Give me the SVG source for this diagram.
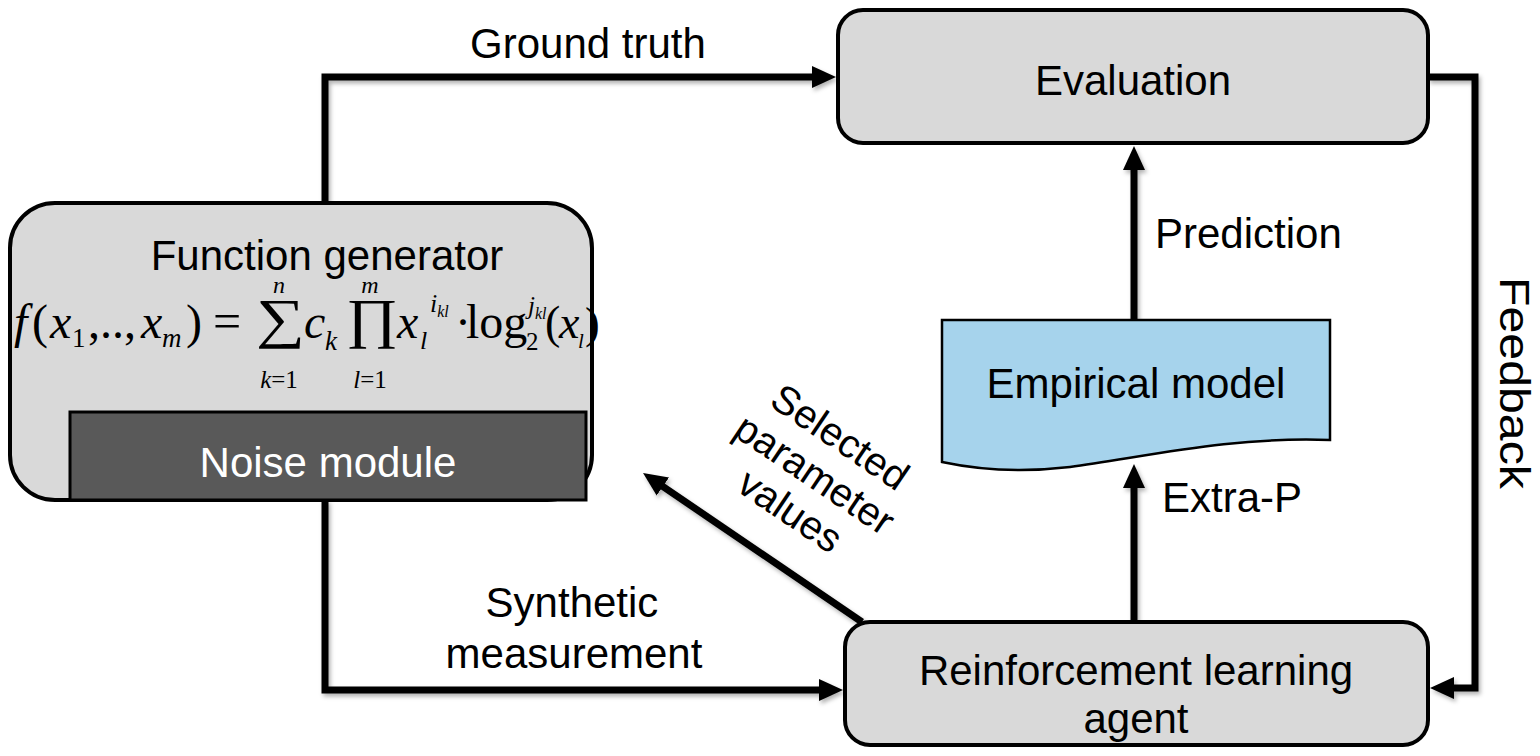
<svg xmlns="http://www.w3.org/2000/svg" width="1540" height="756" viewBox="0 0 1540 756">
  <defs>
    <style>
      .box { fill: #d9d9d9; stroke: #000; stroke-width: 4; }
      .lbl { font-family: "Liberation Sans", Arial, sans-serif; font-size: 42px; fill: #000; }
      .mid { text-anchor: middle; }
      .conn { fill: none; stroke: #000; stroke-width: 7; stroke-linejoin: miter; }
      .m { font-family: "Liberation Serif", "Times New Roman", serif; fill: #000; }
      .it { font-style: italic; }
    </style>
    <marker id="arr" markerUnits="userSpaceOnUse" markerWidth="26" markerHeight="24" refX="14" refY="12" orient="auto" viewBox="0 0 26 24">
      <path d="M0,1 L24,12 L0,23 z" fill="#000"/>
    </marker>
    <filter id="sh" x="-10%" y="-10%" width="120%" height="120%">
      <feDropShadow dx="2" dy="3" stdDeviation="2" flood-color="#000" flood-opacity="0.3"/>
    </filter>
  </defs>
  <rect width="1540" height="756" fill="#fff"/>

  <g id="connectors" filter="url(#sh)">
    <path class="conn" d="M325,203 V77 H826" marker-end="url(#arr)"/>
    <path class="conn" d="M325,500 V690 H833" marker-end="url(#arr)"/>
    <path class="conn" d="M1428,77 H1475 V688 H1440" marker-end="url(#arr)"/>
    <path class="conn" d="M1134,320 V156" marker-end="url(#arr)"/>
    <path class="conn" d="M1134,622 V474" marker-end="url(#arr)"/>
    <path class="conn" d="M862,622 L651.3,478.6" marker-end="url(#arr)"/>
  </g>

  <g id="labels">
    <text class="lbl mid" x="588" y="58">Ground truth</text>
    <text class="lbl" x="1155" y="248">Prediction</text>
    <text class="lbl" x="1162" y="512">Extra-P</text>
    <text class="lbl mid" x="572" y="617">Synthetic</text>
    <text class="lbl mid" x="574" y="668">measurement</text>
    <text class="lbl mid" transform="translate(1515,383) rotate(90)" x="0" y="15" textLength="212" lengthAdjust="spacingAndGlyphs">Feedback</text>
    <g transform="translate(815,474) rotate(34)">
      <text class="lbl mid" x="0" y="-31" style="font-size:40px">Selected</text>
      <text class="lbl mid" x="0" y="14" style="font-size:40px">parameter</text>
      <text class="lbl mid" x="0" y="58" style="font-size:40px">values</text>
    </g>
  </g>

  <g id="evaluation">
    <rect class="box" x="838" y="10" width="590" height="133" rx="25"/>
    <text class="lbl mid" x="1133" y="95">Evaluation</text>
  </g>

  <g id="rl-agent">
    <rect class="box" x="845" y="622" width="583" height="123" rx="25"/>
    <text class="lbl mid" x="1136" y="685">Reinforcement learning</text>
    <text class="lbl mid" x="1136" y="733">agent</text>
  </g>

  <g id="empirical-model">
    <path d="M942,320 H1330 V440 C1230,436 1140,458 1070,467 C1010,474 970,468 942,462 Z" fill="#a6d3ec" stroke="#000" stroke-width="2.5"/>
    <text class="lbl mid" x="1136" y="398">Empirical model</text>
  </g>

  <g id="function-generator">
    <rect class="box" x="10" y="203" width="582" height="297" rx="45"/>
    <text class="lbl mid" x="327" y="270">Function generator</text>
    <g id="formula" class="m">
      <text x="14" y="338" font-size="48" class="it">f</text>
      <text x="32" y="338" font-size="48">(</text>
      <text x="50" y="338" font-size="48" class="it">x</text>
      <text x="72" y="347" font-size="27">1</text>
      <text x="88" y="338" font-size="48">,..,</text>
      <text x="141" y="338" font-size="48" class="it">x</text>
      <text x="162" y="347" font-size="27" class="it">m</text>
      <text x="186" y="338" font-size="48">)</text>
      <text x="213" y="338" font-size="50">=</text>
      <text transform="translate(256,337) scale(1.25,1)" x="0" y="0" font-size="55">∑</text>
      <text x="279" y="293" font-size="24" class="it" text-anchor="middle">n</text>
      <text x="279" y="388" font-size="25" text-anchor="middle"><tspan class="it">k</tspan>=1</text>
      <text x="304" y="338" font-size="48" class="it">c</text>
      <text x="325" y="350" font-size="27" class="it">k</text>
      <text transform="translate(346,337) scale(1.15,1)" x="0" y="0" font-size="55">∏</text>
      <text x="370" y="293" font-size="24" class="it" text-anchor="middle">m</text>
      <text x="370" y="388" font-size="25" text-anchor="middle"><tspan class="it">l</tspan>=1</text>
      <text x="397" y="338" font-size="48" class="it">x</text>
      <text x="420" y="349" font-size="26" class="it">l</text>
      <text x="430" y="312" font-size="26" class="it">i<tspan font-size="16" dy="5">kl</tspan></text>
      <text x="455" y="338" font-size="48">·</text>
      <text x="466" y="338" font-size="48">log</text>
      <text x="526" y="350" font-size="25">2</text>
      <text x="528" y="314" font-size="25" class="it">j<tspan font-size="16" dy="5">kl</tspan></text>
      <text x="545" y="338" font-size="46">(</text>
      <text x="559" y="338" font-size="46" class="it">x</text>
      <text x="578" y="348" font-size="21" class="it">l</text>
      <text x="585" y="338" font-size="44">)</text>
    </g>
    <g id="noise-module">
      <rect x="70" y="412" width="516" height="88" fill="#595959" stroke="#000" stroke-width="3"/>
      <text class="lbl mid" x="328" y="477" style="fill:#fff">Noise module</text>
    </g>
  </g>
</svg>
